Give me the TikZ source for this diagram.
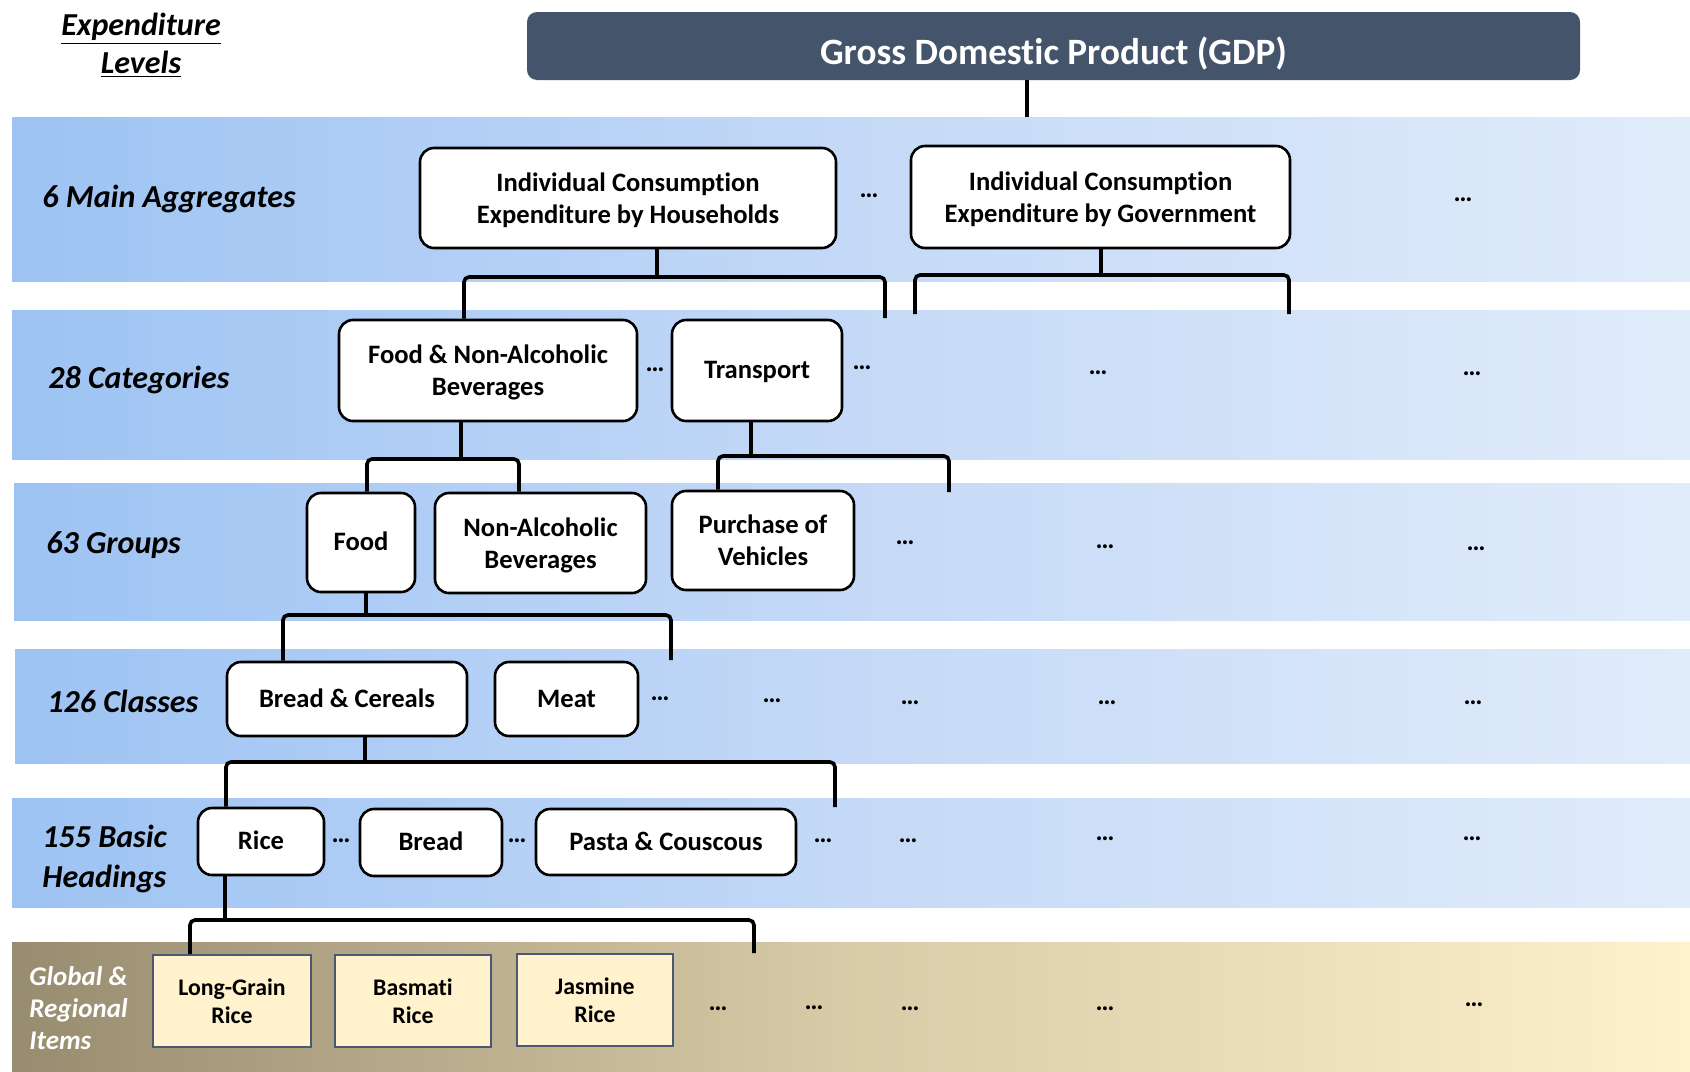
\documentclass[tikz,border=0pt]{standalone}
\usepackage{fontspec}
\setmainfont{Carlito}[Ligatures=NoCommon]
\definecolor{bandL}{HTML}{9DC3F3}
\definecolor{bandM}{HTML}{C4D9F7}
\definecolor{bandR}{HTML}{E1ECFA}
\definecolor{tanL}{HTML}{988C70}
\definecolor{tanM}{HTML}{D8CBA7}
\definecolor{tanR}{HTML}{FCF2CC}
\definecolor{gdpC}{HTML}{44546A}
\definecolor{itemB}{HTML}{4A5A72}
\definecolor{itemF}{HTML}{FFF2CC}
\newcommand\blueband[3]{%
  \shade[left color=bandL,right color=bandM] (#1,#2) rectangle (846,#3);
  \shade[left color=bandM,right color=bandR] (845,#2) rectangle (1690,#3);}
\begin{document}
\begin{tikzpicture}[x=0.5pt,y=-0.5pt,
  box/.style={draw=black, line width=1.3pt, rounded corners=7pt, fill=white,
    align=center, inner sep=0pt, text depth=0pt,
    font=\fontsize{13.3}{16}\selectfont\bfseries},
  onebox/.style={box, text height=8.4pt},
  item/.style={draw=itemB, line width=1.1pt, fill=itemF, align=center,
    inner sep=0pt, text depth=0pt, minimum height=46pt,
    font=\fontsize{11.9}{14}\selectfont\bfseries},
  conn/.style={line width=1.8pt, rounded corners=2.5pt},
  lab/.style={inner sep=0pt, align=left, font=\fontsize{16}{20}\selectfont\bfseries\itshape},
  dots/.style={inner sep=0pt, font=\fontsize{13.3}{16}\selectfont\bfseries}]
\useasboundingbox (0,0) rectangle (1690,1071);
\fill[white] (0,0) rectangle (1690,1071);
% bands
\blueband{12}{117}{281}
\blueband{12}{310}{459}
\blueband{14}{483}{620}
\blueband{15}{649}{763}
\blueband{12}{798}{907}
\shade[left color=tanL,right color=tanM] (12,942) rectangle (846,1071);
\shade[left color=tanM,right color=tanR] (845,942) rectangle (1690,1071);
% title
\node[lab, align=center, text depth=0pt, font=\fontsize{16}{19}\selectfont\bfseries\itshape] (title) at (141,43)
  {\underline{Expenditure}\\\underline{Levels}};
% level labels
\node[lab, anchor=base west] (l1) at (42,207) {6 Main Aggregates};
\node[lab, anchor=base west] (l2) at (48,388) {28 Categories};
\node[lab, anchor=base west] (l3) at (46,553) {63 Groups};
\node[lab, anchor=base west] (l4) at (47,712) {126 Classes};
\node[lab, anchor=west, text depth=0pt] (l5) at (42,856) {155 Basic\\Headings};
\node[lab, anchor=west, text depth=0pt, text=white,
  font=\fontsize{13.5}{16}\selectfont\bfseries\itshape] (l6) at (29,1008) {Global \&\\Regional\\Items};
% GDP
\node[fill=gdpC, rounded corners=5pt, minimum width=526.5pt, minimum height=34pt,
  inner sep=0pt, text=white, text height=18pt, text depth=0pt,
  font=\fontsize{18.6}{22}\selectfont\bfseries] (gdp) at (1053.5,46) {Gross Domestic Product (GDP)};
% boxes
\node[box, minimum width=208pt, minimum height=50pt] (iceh) at (628,198) {Individual Consumption\\Expenditure by Households};
\node[box, minimum width=189.5pt, minimum height=51pt] (iceg) at (1100.5,197) {Individual Consumption\\Expenditure by Government};
\node[box, minimum width=149pt, minimum height=50.5pt] (fnab) at (488,370.5) {Food \& Non-Alcoholic\\Beverages};
\node[onebox, minimum width=85pt, minimum height=50.5pt] (transport) at (757,370.5) {Transport};
\node[onebox, minimum width=54pt, minimum height=49.5pt] (food) at (361,542.5) {Food};
\node[box, minimum width=105.5pt, minimum height=50pt] (nab) at (540.5,543) {Non-Alcoholic\\Beverages};
\node[box, minimum width=91pt, minimum height=49.5pt] (pov) at (763,540.5) {Purchase of\\Vehicles};
\node[onebox, minimum width=120pt, minimum height=37pt] (bc) at (347,699) {Bread \& Cereals};
\node[onebox, minimum width=71.5pt, minimum height=37pt] (meat) at (566.5,699) {Meat};
\node[onebox, minimum width=63pt, minimum height=33.5pt] (rice) at (261,841.5) {Rice};
\node[onebox, minimum width=71pt, minimum height=33.5pt] (bread) at (431,842.5) {Bread};
\node[onebox, minimum width=130pt, minimum height=33pt] (pasta) at (666,842) {Pasta \& Couscous};
\node[item, minimum width=79pt] (lgr) at (232,1001) {Long-Grain\\Rice};
\node[item, minimum width=78pt] (bas) at (413,1001) {Basmati\\Rice};
\node[item, minimum width=78pt] (jas) at (595,1000) {Jasmine\\Rice};
% connectors
\coordinate (g0) at (1027,117);
\draw[conn] (gdp.south -| g0) -- (g0);
\coordinate (a1) at (657,277); \coordinate (a1l) at (464,277);
\coordinate (a1r) at (885,277); \coordinate (a1e) at (885,318);
\draw[conn] (iceh.south -| a1) -- (a1);
\draw[conn] (fnab.north -| a1l) -- (a1l) -- (a1r) -- (a1e);
\coordinate (a2) at (1101,275); \coordinate (a2l) at (915,314); \coordinate (a2lt) at (915,275);
\coordinate (a2rt) at (1289,275); \coordinate (a2r) at (1289,314);
\draw[conn] (iceg.south -| a2) -- (a2);
\draw[conn] (a2l) -- (a2lt) -- (a2rt) -- (a2r);
\coordinate (a3) at (461,459); \coordinate (a3l) at (367,459); \coordinate (a3r) at (519,459);
\draw[conn] (fnab.south -| a3) -- (a3);
\draw[conn] (food.north -| a3l) -- (a3l) -- (a3r) -- (nab.north -| a3r);
\coordinate (a4) at (751,456); \coordinate (a4l) at (718,456);
\coordinate (a4r) at (949,456); \coordinate (a4e) at (949,492);
\draw[conn] (transport.south -| a4) -- (a4);
\draw[conn] (pov.north -| a4l) -- (a4l) -- (a4r) -- (a4e);
\coordinate (a5) at (366,615); \coordinate (a5l) at (283,615);
\coordinate (a5r) at (671,615); \coordinate (a5e) at (671,660);
\draw[conn] (food.south -| a5) -- (a5);
\draw[conn] (bc.north -| a5l) -- (a5l) -- (a5r) -- (a5e);
\coordinate (a6) at (365,762); \coordinate (a6l) at (226,762);
\coordinate (a6r) at (835,762); \coordinate (a6e) at (835,807);
\draw[conn] (bc.south -| a6) -- (a6);
\draw[conn] (rice.north -| a6l) -- (a6l) -- (a6r) -- (a6e);
\coordinate (a7) at (225,920); \coordinate (a7l) at (190,920);
\coordinate (a7r) at (754,920); \coordinate (a7e) at (754,953);
\draw[conn] (rice.south -| a7) -- (a7);
\draw[conn] (lgr.north -| a7l) -- (a7l) -- (a7r) -- (a7e);
% dots
\node[dots] (d11) at (869,196) {…};
\node[dots] (d12) at (1463,200) {…};
\node[dots] (d21) at (655,370) {…};
\node[dots] (d22) at (862,368) {…};
\node[dots] (d23) at (1098,373) {…};
\node[dots] (d24) at (1472,374) {…};
\node[dots] (d31) at (905,543) {…};
\node[dots] (d32) at (1105,547) {…};
\node[dots] (d33) at (1476,549) {…};
\node[dots] (d41) at (660,699) {…};
\node[dots] (d42) at (772,701) {…};
\node[dots] (d43) at (910,703) {…};
\node[dots] (d44) at (1107,703) {…};
\node[dots] (d45) at (1473,703) {…};
\node[dots] (d51) at (341,841) {…};
\node[dots] (d52) at (517,841) {…};
\node[dots] (d53) at (823,841) {…};
\node[dots] (d54) at (908,841) {…};
\node[dots] (d55) at (1105,839) {…};
\node[dots] (d56) at (1472,839) {…};
\node[dots] (d61) at (718,1009) {…};
\node[dots] (d62) at (814,1008) {…};
\node[dots] (d63) at (910,1009) {…};
\node[dots] (d64) at (1105,1009) {…};
\node[dots] (d65) at (1474,1005) {…};
\end{tikzpicture}
\end{document}
